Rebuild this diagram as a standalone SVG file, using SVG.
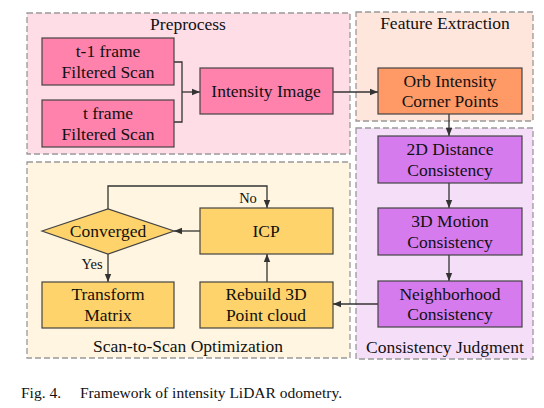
<svg xmlns="http://www.w3.org/2000/svg" width="544" height="408" viewBox="0 0 544 408">
<defs>
<style>
.panel{stroke:#999;stroke-width:1.3;stroke-dasharray:6,3}
.box{stroke:#444;stroke-width:1.2}
text{font-family:'Liberation Serif','Times New Roman','DejaVu Serif',serif;fill:#111}
.t{font-size:17.5px;text-anchor:middle}
.lbl{font-size:14.5px;text-anchor:middle}
.cap{font-size:15.5px}
.c{fill:none;stroke:#333;stroke-width:1.3}
</style>
<marker id="ah" viewBox="0 0 10 10" refX="10" refY="5" markerWidth="8" markerHeight="8" markerUnits="userSpaceOnUse" orient="auto">
<path d="M0,1 L10,5 L0,9 z" fill="#333"/>
</marker>
</defs>
<rect width="544" height="408" fill="#fff"/>

<g id="panel-preprocess">
<rect class="panel" x="27" y="13" width="323" height="141" fill="#FFDDE6"/>
<text class="t" x="188" y="30">Preprocess</text>
</g>
<g id="panel-feature">
<rect class="panel" x="356" y="12" width="177" height="109" fill="#FFE6DD"/>
<text class="t" x="445" y="29">Feature Extraction</text>
</g>
<g id="panel-consistency">
<rect class="panel" x="356" y="128" width="177" height="231" fill="#F5DEF8"/>
<text class="t" x="445" y="353">Consistency Judgment</text>
</g>
<g id="panel-scan">
<rect class="panel" x="27" y="162" width="323" height="196" fill="#FFF5E0"/>
<text class="t" x="188" y="352">Scan-to-Scan Optimization</text>
</g>

<g id="connectors">
<polyline class="c" points="174,62 182,62 182,122 174,122"/>
<line class="c" x1="182" y1="92" x2="200" y2="92" marker-end="url(#ah)"/>
<line class="c" x1="333" y1="92" x2="378" y2="92" marker-end="url(#ah)"/>
<line class="c" x1="449" y1="114" x2="449" y2="136" marker-end="url(#ah)"/>
<line class="c" x1="449" y1="183" x2="449" y2="208" marker-end="url(#ah)"/>
<line class="c" x1="449" y1="255" x2="449" y2="281" marker-end="url(#ah)"/>
<line class="c" x1="378" y1="304" x2="333" y2="304" marker-end="url(#ah)"/>
<line class="c" x1="267" y1="282" x2="267" y2="254" marker-end="url(#ah)"/>
<line class="c" x1="200" y1="231" x2="174" y2="231" marker-end="url(#ah)"/>
<polyline class="c" points="108,209 108,186 267,186 267,208" marker-end="url(#ah)"/>
<line class="c" x1="108" y1="254" x2="108" y2="282" marker-end="url(#ah)"/>
<text class="lbl" x="248" y="203">No</text>
<text class="lbl" x="92" y="269">Yes</text>
</g>

<g id="node-t1">
<rect class="box" x="42" y="38" width="132" height="47" fill="#FF82AC"/>
<text class="t" x="108" y="57">t-1 frame</text>
<text class="t" x="108" y="78">Filtered Scan</text>
</g>
<g id="node-t">
<rect class="box" x="42" y="100" width="132" height="47" fill="#FF82AC"/>
<text class="t" x="108" y="119">t frame</text>
<text class="t" x="108" y="140">Filtered Scan</text>
</g>
<g id="node-intensity">
<rect class="box" x="200" y="68" width="133" height="46" fill="#FF82AC"/>
<text class="t" x="266" y="97">Intensity Image</text>
</g>
<g id="node-orb">
<rect class="box" x="378" y="68" width="144" height="46" fill="#FF9966"/>
<text class="t" x="450" y="87">Orb Intensity</text>
<text class="t" x="450" y="107">Corner Points</text>
</g>
<g id="node-2d">
<rect class="box" x="378" y="136" width="144" height="47" fill="#D57BEE"/>
<text class="t" x="450" y="155">2D Distance</text>
<text class="t" x="450" y="176">Consistency</text>
</g>
<g id="node-3d">
<rect class="box" x="378" y="208" width="144" height="47" fill="#D57BEE"/>
<text class="t" x="450" y="227">3D Motion</text>
<text class="t" x="450" y="248">Consistency</text>
</g>
<g id="node-neighborhood">
<rect class="box" x="378" y="281" width="144" height="46" fill="#D57BEE"/>
<text class="t" x="450" y="300">Neighborhood</text>
<text class="t" x="450" y="320">Consistency</text>
</g>
<g id="node-icp">
<rect class="box" x="200" y="208" width="133" height="46" fill="#FFD36B"/>
<text class="t" x="266" y="237">ICP</text>
</g>
<g id="node-converged">
<polygon class="box" points="42,231 108,209 174,231 108,254" fill="#FFD36B"/>
<text class="t" x="108" y="237">Converged</text>
</g>
<g id="node-transform">
<rect class="box" x="42" y="282" width="132" height="46" fill="#FFD36B"/>
<text class="t" x="108" y="300">Transform</text>
<text class="t" x="108" y="321">Matrix</text>
</g>
<g id="node-rebuild">
<rect class="box" x="200" y="282" width="133" height="46" fill="#FFD36B"/>
<text class="t" x="266" y="300">Rebuild 3D</text>
<text class="t" x="266" y="321">Point cloud</text>
</g>

<text class="cap" x="21" y="398">Fig. 4.</text>
<text class="cap" x="80" y="398">Framework of intensity LiDAR odometry.</text>
</svg>
